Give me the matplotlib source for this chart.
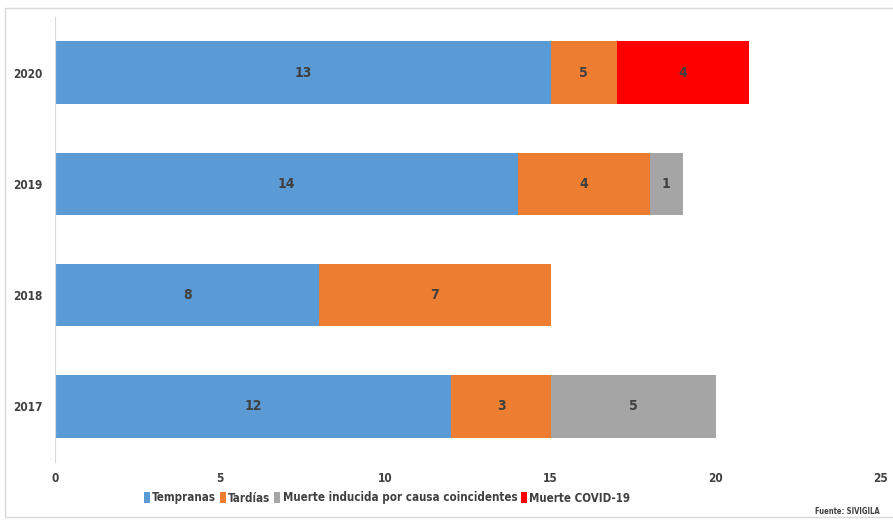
import matplotlib.pyplot as plt
from matplotlib.patches import Rectangle

years = ["2017", "2018", "2019", "2020"]
series = ["Tempranas", "Tardías", "Muerte inducida por causa coincidentes", "Muerte COVID-19"]
colors = ["#5B9BD5", "#ED7D31", "#A5A5A5", "#FF0000"]
# bar lengths as drawn
widths = [
    [12, 8, 14, 15],
    [3, 7, 4, 2],
    [5, 0, 1, 0],
    [0, 0, 0, 4],
]
# data labels as printed
labels = [
    ["12", "8", "14", "13"],
    ["3", "7", "4", "5"],
    ["5", "", "1", ""],
    ["", "", "", "4"],
]

plt.rcParams['font.family'] = ['DejaVu Sans']
plt.rcParams['font.stretch'] = 'condensed'

fig = plt.figure(figsize=(8.93, 5.24), dpi=100)
fig.patches.append(Rectangle((5/893, 7/524), 1, 1 - 15/524, transform=fig.transFigure,
                             fill=False, edgecolor="#D9D9D9", lw=1))
ax = fig.add_axes([55/893, 62/524, 826/893, 445/524])

left = [0] * len(years)
for s in range(len(series)):
    ax.barh(years, widths[s], left=left, height=0.56, color=colors[s], label=series[s])
    for i in range(len(years)):
        if labels[s][i]:
            ax.text(left[i] + widths[s][i] / 2, i, labels[s][i], ha="center", va="center",
                    fontsize=10, fontweight="bold", color="#404040")
    left = [left[i] + widths[s][i] for i in range(len(years))]

ax.set_xlim(0, 25)
ax.set_ylim(-0.5, 3.5)
ax.set_xticks([0, 5, 10, 15, 20, 25])
ax.tick_params(length=0, labelsize=8.5, colors="#404040")
ax.tick_params(axis="x", pad=7)
ax.tick_params(axis="y", pad=9)
for lab in ax.get_xticklabels() + ax.get_yticklabels():
    lab.set_fontweight("bold")
for sp in ["top", "right", "bottom"]:
    ax.spines[sp].set_visible(False)
ax.spines["left"].set_color("#D9D9D9")

leg = fig.legend(loc="center", bbox_to_anchor=(387/893, 1 - 498/524), ncol=4, frameon=False,
                 handlelength=0.55, handleheight=1.1, handletextpad=0.2, columnspacing=0.3,
                 prop={"size": 8.3, "weight": "bold"})
for t in leg.get_texts():
    t.set_color("#404040")

fig.text(880/893, 1 - 511/524, "Fuente: SIVIGILA", fontsize=5.5, fontweight="bold",
         color="#404040", ha="right", va="center")

fig.savefig("out.png", dpi=100)
